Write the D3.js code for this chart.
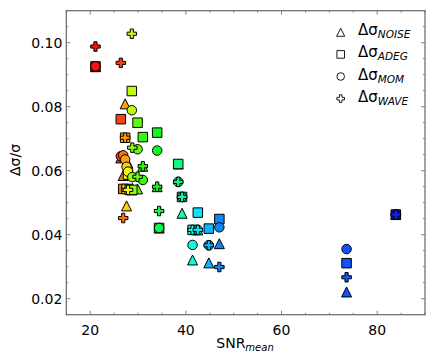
<!DOCTYPE html>
<html>
<head>
<meta charset="utf-8">
<script src="https://cdn.jsdelivr.net/npm/d3@7"></script>
<style>
  body { margin: 0; background: #fff; }
  text { font-family: "DejaVu Sans", sans-serif; }
</style>
</head>
<body>
<div id="chart"></div>
<script>
// one entry per data set, sorted by SNR
var snr   = [21.1, 26.4, 26.9, 27.3, 27.6, 27.9, 28.7, 28.8, 29.9, 31.0,
             34.0, 34.4, 38.4, 39.2, 41.4, 42.5, 44.8, 47.0, 73.6, 83.9];
var noise = [0.0925, 0.0640, 0.0585, 0.0809, 0.0490, 0.0623, 0.0540, 0.0545, 0.0543, 0.0614,
             0.0550, 0.0421, 0.0621, 0.0467, 0.0321, 0.0415, 0.0312, 0.0372, 0.0221, 0.0463];
var adeg  = [0.0926, 0.0761, 0.0543, 0.0703, 0.0543, 0.0588, 0.0849, 0.0540, 0.0750, 0.0705,
             0.0719, 0.0421, 0.0621, 0.0518, 0.0415, 0.0469, 0.0419, 0.0449, 0.0311, 0.0463];
var mom   = [0.0926, 0.0645, 0.0648, 0.0635, 0.0612, 0.0597, 0.0789, 0.0580, 0.0667, 0.0571,
             0.0663, 0.0421, 0.0565, 0.0518, 0.0368, 0.0415, 0.0367, 0.0423, 0.0355, 0.0463];
var wave  = [0.0988, 0.0937, 0.0452, 0.0703, 0.0540, 0.0540, 0.1028, 0.0672, 0.0581, 0.0614,
             0.0550, 0.0474, 0.0565, 0.0518, 0.0415, 0.0415, 0.0367, 0.0299, 0.0267, 0.0463];

var seriesNames = ["NOISE", "ADEG", "MOM", "WAVE"];
var seriesVals = [noise, adeg, mom, wave];
var shapes = ["tri", "sq", "circ", "plus"];

var xTicks = [20, 40, 60, 80];
var yTicks = [0.02, 0.04, 0.06, 0.08, 0.10];

var width = 436, height = 363;
var margin = {top: 10.7, right: 11, bottom: 48.3, left: 66.3};

var svg = d3.select("#chart").append("svg")
  .attr("width", width).attr("height", height);

var x = d3.scaleLinear().domain([15, 90]).range([margin.left, width - margin.right]);
var y = d3.scaleLinear().domain([0.015, 0.11]).range([height - margin.bottom, margin.top]);

// colour by data set rank, hsv-like sweep red -> blue
var color = d3.scaleLinear().domain([0, snr.length - 1]).range([0, 235]);
function fill(i) { return d3.hsl(color(i), 0.95, 0.52).toString(); }

function markerPath(type, s) {
  var h = s / 2;
  if (type === "tri") {
    return "M0," + (-h) + "L" + h + "," + h + "L" + (-h) + "," + h + "Z";
  }
  if (type === "sq") {
    return "M" + (-h) + "," + (-h) + "H" + h + "V" + h + "H" + (-h) + "Z";
  }
  if (type === "circ") {
    return "M" + h + ",0A" + h + "," + h + " 0 1,1 " + (-h) + ",0A" + h + "," + h + " 0 1,1 " + h + ",0Z";
  }
  var a = s / 6;
  return "M" + (-a) + "," + (-h) + "H" + a + "V" + (-a) + "H" + h + "V" + a + "H" + a +
    "V" + h + "H" + (-a) + "V" + a + "H" + (-h) + "V" + (-a) + "H" + (-a) + "Z";
}
var sizes = {tri: 10, sq: 9.5, circ: 9.5, plus: 9.5};

// axes, ticks inward on all four sides
var x0 = margin.left, x1 = width - margin.right;
var y0 = height - margin.bottom, y1 = margin.top;
var axisColor = "#666";

var ticks = svg.append("g").attr("stroke", axisColor).attr("stroke-width", 0.8);
d3.range(15, 91, 5).forEach(function(v) {
  var len = (v % 20 === 0) ? 4 : 2;
  ticks.append("line").attr("x1", x(v)).attr("x2", x(v)).attr("y1", y0).attr("y2", y0 - len);
  ticks.append("line").attr("x1", x(v)).attr("x2", x(v)).attr("y1", y1).attr("y2", y1 + len);
});
d3.range(15, 111, 5).forEach(function(k) {
  var v = k / 1000;
  var len = (k % 20 === 0) ? 4 : 2;
  ticks.append("line").attr("y1", y(v)).attr("y2", y(v)).attr("x1", x0).attr("x2", x0 + len);
  ticks.append("line").attr("y1", y(v)).attr("y2", y(v)).attr("x1", x1).attr("x2", x1 - len);
});

svg.append("rect")
  .attr("x", x0).attr("y", y1)
  .attr("width", x1 - x0).attr("height", y0 - y1)
  .attr("fill", "none").attr("stroke", axisColor).attr("stroke-width", 1.2);

svg.selectAll(".xt").data(xTicks).enter().append("text")
  .attr("x", function(d) { return x(d); })
  .attr("y", y0 + 20)
  .attr("text-anchor", "middle")
  .attr("font-size", 14)
  .text(function(d) { return d; });

svg.selectAll(".yt").data(yTicks).enter().append("text")
  .attr("x", x0 - 4)
  .attr("y", function(d) { return y(d) + 5; })
  .attr("text-anchor", "end")
  .attr("font-size", 14)
  .text(function(d) { return d.toFixed(2); });

// axis labels
var xl = svg.append("text")
  .attr("x", 245).attr("y", 348)
  .attr("text-anchor", "middle")
  .attr("font-size", 14);
xl.append("tspan").text("SNR");
xl.append("tspan").attr("font-size", 10).attr("font-style", "italic").attr("dy", 3).text("mean");

svg.append("text")
  .attr("transform", "translate(20,160) rotate(-90)")
  .attr("text-anchor", "middle")
  .attr("font-size", 14)
  .text("Δσ/σ");

// points, drawn series by series
seriesVals.forEach(function(vals, s) {
  svg.append("g").selectAll("path")
    .data(snr)
    .enter().append("path")
    .attr("transform", function(d, i) { return "translate(" + x(d) + "," + y(vals[i]) + ")"; })
    .attr("d", markerPath(shapes[s], sizes[shapes[s]]))
    .attr("fill", function(d, i) { return fill(i); })
    .attr("stroke", "#000")
    .attr("stroke-width", 1);
});

// legend
var leg = svg.append("g");
seriesNames.forEach(function(name, s) {
  var cy = 32.3 + s * 22.1;
  leg.append("path")
    .attr("transform", "translate(340.7," + cy + ")")
    .attr("d", markerPath(shapes[s], sizes[shapes[s]] * 0.8))
    .attr("fill", "#fff")
    .attr("stroke", "#000")
    .attr("stroke-width", 0.9);
  var t = leg.append("text")
    .attr("x", 358).attr("y", cy + 3)
    .attr("font-size", 15);
  t.append("tspan").text("Δσ");
  t.append("tspan").attr("font-size", 10.5).attr("font-style", "italic").attr("dy", 3).text(name);
});
</script>
</body>
</html>
